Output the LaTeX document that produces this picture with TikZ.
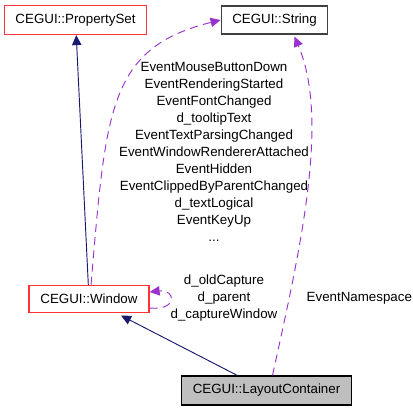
\documentclass[tikz,border=0pt]{standalone}
\usepackage{fontspec}
\setmainfont{Liberation Sans}
\usetikzlibrary{arrows.meta,calc}
\definecolor{navy}{RGB}{25,25,112}
\definecolor{orchid}{RGB}{154,50,205}
\definecolor{boxred}{RGB}{255,51,51}
\definecolor{boxgray}{RGB}{64,64,64}
\definecolor{cur}{RGB}{191,191,191}
\begin{document}
\begin{tikzpicture}[x=0.75pt, y=-0.75pt,
    every node/.style={font=\fontsize{10}{12.75}\selectfont},
    cls/.style={draw, line width=0.9pt, inner sep=0pt},
    inh/.style={navy, line width=0.7pt, -{Triangle[length=7.5pt, width=7pt]}},
    dep/.style={orchid, line width=0.7pt, dash pattern=on 6pt off 4pt, -{Triangle[length=7.5pt, width=7pt]}}]
        \useasboundingbox (0, 0) rectangle (413, 411);
        \node[cls, draw=boxred, minimum width = 107pt, minimum height = 21.75pt] (ps) at (75.5, 20) {CEGUI::PropertySet};
        \node[cls, draw=boxgray, minimum width = 80pt, minimum height = 21pt] (str) at (274.5, 20) {CEGUI::String};
        \node[cls, draw=boxred, minimum width = 90pt, minimum height = 20.25pt] (win) at (89, 299) {CEGUI::Window};
        \node[cls, draw=black, fill=cur, minimum width = 127pt, minimum height = 21.75pt] (lc) at (266.5, 390.5) {CEGUI::LayoutContainer};

        \node[align=center] (mem) at (214, 152) {EventMouseButtonDown\\EventRenderingStarted\\EventFontChanged\\d\_tooltipText\\EventTextParsingChanged\\EventWindowRendererAttached\\EventHidden\\EventClippedByParentChanged\\d\_textLogical\\EventKeyUp\\...};
        \node[align=center] (self) at (224, 298) {d\_oldCapture\\d\_parent\\d\_captureWindow};
        \node[anchor=west] (ns) at (302, 298) {EventNamespace};

        \draw[inh] (win) -- (ps);
        \draw[inh, shorten >=4pt] (lc) -- (win);
        \draw[dep] ($(win.north)+(2,0)$) .. controls (106, 110) and (108, 48) .. (str.west);
        \draw[dep] ($(win.east)+(0,9)$) .. controls (178, 311) and (176, 289) .. ($(win.east)+(0,-7)$);
        \draw[dep] ($(lc.north)+(6,0)$) .. controls (300, 250) and (330, 120) .. ($(str.south)+(20,2)$);
    \end{tikzpicture}
\end{document}
